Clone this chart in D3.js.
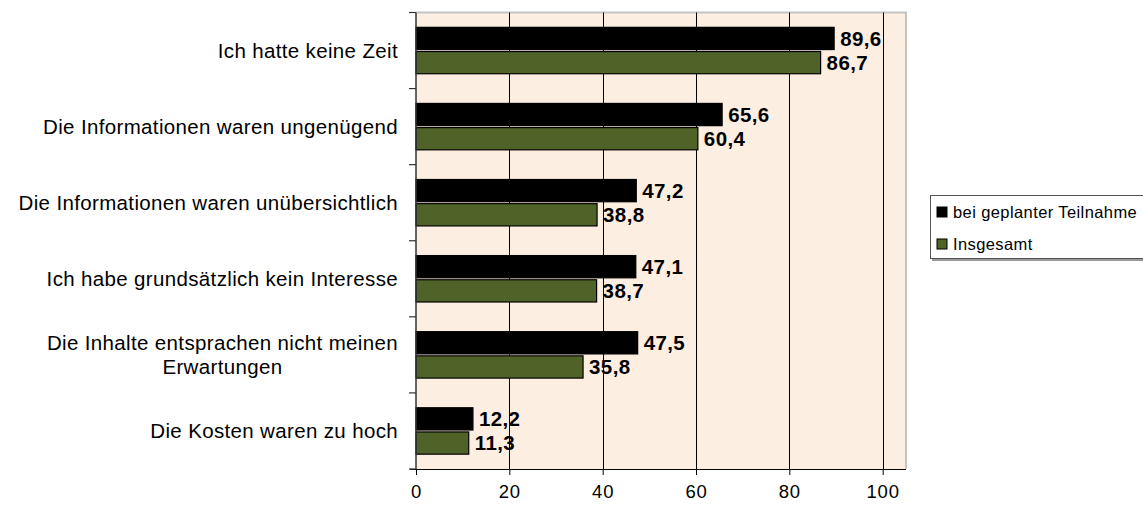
<!DOCTYPE html>
<html>
<head>
<meta charset="utf-8">
<script src="https://cdn.jsdelivr.net/npm/d3@7"></script>
<style>
  body { margin: 0; background: #fff; }
  svg { display: block; font-family: "Liberation Sans", Arial, sans-serif; }
</style>
</head>
<body>
<svg id="chart" width="1143" height="510"></svg>
<script>
"use strict";

// Data
const categories = [
    ["Ich hatte keine Zeit"],
    ["Die Informationen waren ungenügend"],
    ["Die Informationen waren unübersichtlich"],
    ["Ich habe grundsätzlich kein Interesse"],
    ["Die Inhalte entsprachen nicht meinen", "Erwartungen"],
    ["Die Kosten waren zu hoch"]
];
const seriesNames = ["bei geplanter Teilnahme", "Insgesamt"];
const geplant = [89.6, 65.6, 47.2, 47.1, 47.5, 12.2];
const insgesamt = [86.7, 60.4, 38.8, 38.7, 35.8, 11.3];
const xTicks = [0, 20, 40, 60, 80, 100];
const seriesColors = ["#000000", "#4f6228"];

const fmt = v => d3.format(".1f")(v).replace(".", ",");

const svg = d3.select("#chart");

// plot area
const plot = { left: 416, right: 906, top: 12.5, bottom: 469 };

const x = d3.scaleLinear()
    .domain([0, 105])
    .range([plot.left, plot.right]);

const y0 = d3.scaleBand()
    .domain(d3.range(categories.length))
    .range([plot.top, plot.bottom])
    .paddingInner(0.39)
    .paddingOuter(0.195);

const y1 = d3.scaleBand()
    .domain([0, 1])
    .range([0, y0.bandwidth()])
    .paddingInner(0.08);

// background
svg.append("rect")
    .attr("x", plot.left)
    .attr("y", plot.top)
    .attr("width", plot.right - plot.left)
    .attr("height", plot.bottom - plot.top)
    .attr("fill", "#fdeee2");

// border top / right
svg.append("path")
    .attr("d", `M${plot.left},${plot.top}H${plot.right}V${plot.bottom}`)
    .attr("fill", "none")
    .attr("stroke", "#c4c4c4")
    .attr("stroke-width", 2);

// gridlines
svg.append("g")
    .selectAll("line")
    .data(xTicks.filter(d => d > 0))
    .join("line")
    .attr("x1", d => Math.round(x(d)) + 0.5)
    .attr("x2", d => Math.round(x(d)) + 0.5)
    .attr("y1", plot.top)
    .attr("y2", plot.bottom)
    .attr("stroke", "#000")
    .attr("stroke-width", 1);

// bars
const rows = categories.map((c, i) => ({ i: i, values: [geplant[i], insgesamt[i]] }));

const groups = svg.append("g")
    .selectAll("g")
    .data(rows)
    .join("g")
    .attr("transform", d => "translate(0," + y0(d.i) + ")");

groups.selectAll("rect")
    .data(d => d.values.map((v, s) => ({ v: v, s: s })))
    .join("rect")
    .attr("x", x(0))
    .attr("y", d => y1(d.s))
    .attr("width", d => x(d.v) - x(0))
    .attr("height", y1.bandwidth())
    .attr("fill", d => seriesColors[d.s])
    .attr("stroke", "#000")
    .attr("stroke-width", 1.2);

// value labels
groups.selectAll("text")
    .data(d => d.values.map((v, s) => ({ v: v, s: s })))
    .join("text")
    .attr("x", d => x(d.v) + 6)
    .attr("y", d => y1(d.s) + y1.bandwidth() / 2)
    .attr("dy", "0.36em")
    .attr("font-size", 20.5)
    .attr("font-weight", "bold")
    .attr("letter-spacing", "0.4px")
    .attr("fill", "#000")
    .text(d => fmt(d.v));

// bottom axis
const xAxis = svg.append("g")
    .attr("transform", "translate(0," + plot.bottom + ")")
    .call(d3.axisBottom(x).tickValues(xTicks).tickSize(6).tickPadding(10).tickFormat(d3.format("d")));
xAxis.select(".domain").attr("stroke", "#000").attr("d", `M${plot.left - 6},0.5H${plot.right}`);
xAxis.selectAll(".tick line").attr("stroke", "#000");
xAxis.selectAll(".tick text")
    .attr("font-size", 18.5)
    .attr("letter-spacing", "0.8px")
    .attr("font-family", "Liberation Sans, Arial, sans-serif")
    .attr("fill", "#000");

// left axis (category boundaries)
const yEdges = d3.range(categories.length + 1).map(i => plot.top + i * y0.step());
const yAx = svg.append("g");
yAx.append("line")
    .attr("x1", plot.left).attr("x2", plot.left)
    .attr("y1", plot.top).attr("y2", plot.bottom)
    .attr("stroke", "#333").attr("stroke-width", 1.5);
yAx.selectAll("line.tk")
    .data(yEdges)
    .join("line")
    .attr("class", "tk")
    .attr("x1", plot.left - 7).attr("x2", plot.left)
    .attr("y1", d => d).attr("y2", d => d)
    .attr("stroke", "#333").attr("stroke-width", 1.2);

// category labels (right edge at 398, multi-line centered)
const labelRight = 398;
const lineH = 24;
categories.forEach((lines, i) => {
    const cy = y0(i) + y0.bandwidth() / 2;
    const g = svg.append("g");
    const texts = g.selectAll("text")
        .data(lines)
        .join("text")
        .attr("font-size", 20.5)
        .attr("letter-spacing", "0.35px")
        .attr("fill", "#000")
        .attr("text-anchor", "middle")
        .attr("y", (d, k) => cy + (k - (lines.length - 1) / 2) * lineH)
        .attr("dy", "0.36em")
        .text(d => d);
    let maxW = 0;
    texts.each(function () { maxW = Math.max(maxW, this.getComputedTextLength()); });
    texts.attr("x", labelRight - maxW / 2);
});

// legend
const legend = svg.append("g").attr("transform", "translate(930,195)");
legend.append("rect")
    .attr("x", 2).attr("y", 2)
    .attr("width", 240).attr("height", 64)
    .attr("fill", "#9a9a9a");
legend.append("rect")
    .attr("x", 0.5).attr("y", 0.5)
    .attr("width", 240).attr("height", 63)
    .attr("fill", "#fff")
    .attr("stroke", "#555");
const li = legend.selectAll("g.item")
    .data(seriesNames)
    .join("g")
    .attr("class", "item")
    .attr("transform", (d, i) => "translate(0," + (17 + i * 32) + ")");
li.append("rect")
    .attr("x", 7).attr("y", -5)
    .attr("width", 10).attr("height", 10)
    .attr("fill", (d, i) => seriesColors[i])
    .attr("stroke", "#000");
li.append("text")
    .attr("x", 23)
    .attr("dy", "0.36em")
    .attr("font-size", 16.5)
    .attr("letter-spacing", "0.4px")
    .attr("fill", "#000")
    .text(d => d);
</script>
</body>
</html>
